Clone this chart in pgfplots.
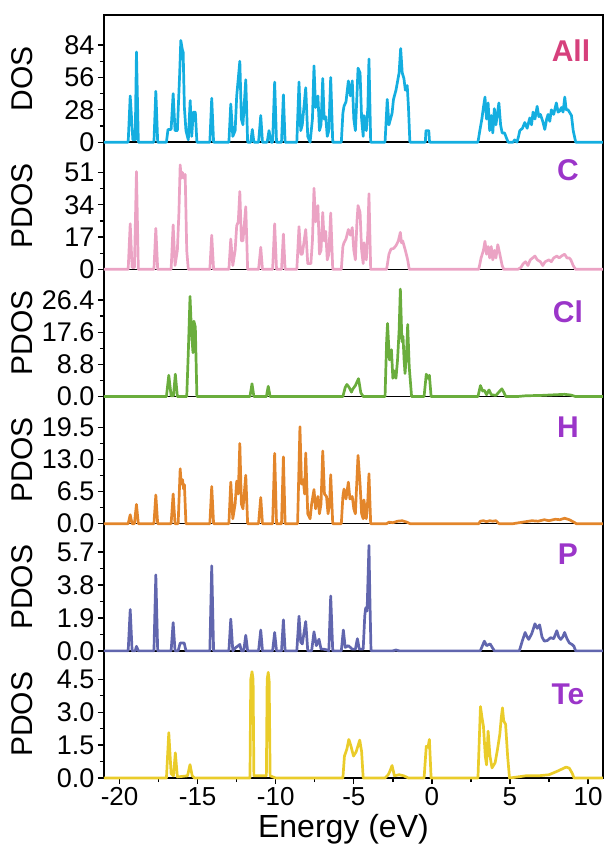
\documentclass[border=0pt]{standalone}
\usepackage{pgfplots}
\pgfplotsset{compat=1.18}
\usepgfplotslibrary{groupplots}
\usepackage{fontspec}
\setmainfont{Liberation Sans}

\definecolor{cAll}{HTML}{14AEE0}
\definecolor{cC}{HTML}{EBA3C4}
\definecolor{cCl}{HTML}{6AAD3D}
\definecolor{cH}{HTML}{E3862B}
\definecolor{cP}{HTML}{6166AE}
\definecolor{cTe}{HTML}{EACC2A}
\definecolor{labAll}{HTML}{D6407C}
\definecolor{labEl}{HTML}{9B35C9}

\begin{document}
\begin{tikzpicture}
\begin{groupplot}[
  group style={group size=1 by 6, vertical sep=0pt, xticklabels at=edge bottom},
  width=499bp, height=127.2bp, scale only axis,
  set layers=standard,
  xmin=-21, xmax=10.95, ymin=0,
  xtick={-20,-15,...,10}, minor x tick num=1,
  minor y tick num=1,
  ytick pos=left, xtick pos=bottom,
  tick align=outside,
  axis line style={line width=1.6bp},
  tick style={black, line width=1.3bp},
  major tick length=6bp, minor tick length=4bp,
  /pgf/number format/assume math mode=true,
  yticklabel style={font=\fontsize{27bp}{29bp}\selectfont},
  xticklabel style={font=\fontsize{26bp}{28bp}\selectfont},
  ylabel style={font=\fontsize{30bp}{32bp}\selectfont, at={(axis description cs:-0.164,0.5)}, anchor=center},
  xlabel style={font=\fontsize{32bp}{34bp}\selectfont, at={(axis description cs:0.48,-0.464)}, anchor=base},
  every axis plot/.append style={line width=2.7bp, line join=round, on layer=axis foreground},
  clip=false,
]
% All
\nextgroupplot[ymax=110, ytick={0,28,56,84}, ylabel={DOS}, major x tick style={draw=none}, minor x tick style={draw=none}]
\addplot[cAll] coordinates {(-21,0) (-19.45,0) (-19.32,40) (-19.15,2) (-19.0,2) (-18.92,78) (-18.8,0) (-17.8,0) (-17.68,44) (-17.56,0) (-17.0,0) (-16.9,11) (-16.7,11) (-16.57,42) (-16.45,10) (-16.3,10) (-16.15,60) (-16.08,88) (-15.98,80) (-15.93,78) (-15.85,30) (-15.75,10) (-15.6,2) (-15.48,36) (-15.38,5) (-15.28,26) (-15.15,26) (-15.05,0) (-14.22,0) (-14.10,38) (-13.98,0) (-13.0,0) (-12.88,33) (-12.75,5) (-12.6,10) (-12.5,40) (-12.3,70) (-12.2,20) (-12.1,15) (-11.92,54) (-11.8,0) (-11.6,0) (-11.5,11) (-11.4,0) (-11.1,0) (-10.96,23) (-10.85,0) (-10.55,0) (-10.43,10) (-10.3,0) (-10.2,0) (-10.07,52) (-9.95,0) (-9.63,0) (-9.51,41) (-9.4,0) (-8.65,0) (-8.51,52) (-8.4,10) (-8.3,15) (-8.08,47) (-7.95,5) (-7.8,0) (-7.65,20) (-7.55,66) (-7.45,30) (-7.3,40) (-7.2,10) (-7.1,15) (-6.99,55) (-6.9,20) (-6.8,22) (-6.7,5) (-6.6,10) (-6.48,56) (-6.35,0) (-5.8,0) (-5.7,25) (-5.63,31) (-5.5,35) (-5.35,53) (-5.22,40) (-5.1,53) (-5.0,20) (-4.9,10) (-4.8,40) (-4.73,64) (-4.6,60) (-4.5,20) (-4.4,5) (-4.35,23) (-4.2,10) (-4.1,30) (-4.03,72) (-3.92,0) (-3.0,0) (-2.86,37) (-2.75,15) (-2.65,20) (-2.55,25) (-2.46,37) (-2.3,45) (-2.1,60) (-2.0,81) (-1.9,60) (-1.79,55) (-1.7,45) (-1.58,49) (-1.5,30) (-1.41,0) (-0.42,0) (-0.38,10) (-0.2,10) (-0.15,0) (2.95,0) (3.07,10) (3.2,20) (3.3,30) (3.4,39) (3.5,20) (3.6,34) (3.7,10) (3.8,23) (3.9,8) (4.0,29) (4.1,15) (4.2,25) (4.29,34) (4.4,15) (4.5,8) (4.65,8) (4.88,0) (5.2,0) (5.3,2) (5.45,0) (5.55,5) (5.63,10) (5.8,12) (5.95,17) (6.1,12) (6.27,21) (6.38,15) (6.48,26) (6.6,20) (6.74,31) (6.85,22) (6.95,24) (7.1,18) (7.23,11) (7.35,20) (7.44,24) (7.55,18) (7.65,28) (7.8,24) (7.97,34) (8.08,26) (8.19,27) (8.3,30) (8.4,26) (8.51,39) (8.6,28) (8.72,28) (8.85,25) (8.94,23) (9.05,10) (9.21,0) (10.95,0)};
\node[labAll, font=\fontsize{30bp}{32bp}\selectfont\bfseries] at (rel axis cs:0.936,0.72) {All};

% C
\nextgroupplot[ymax=67, ytick={0,17,34,51}, ylabel={PDOS}, major x tick style={draw=none}, minor x tick style={draw=none}]
\addplot[cC] coordinates {(-21,0) (-19.45,0) (-19.32,24) (-19.2,1) (-19.05,1) (-18.92,51.5) (-18.8,0) (-17.8,0) (-17.68,21.6) (-17.56,0) (-16.7,0) (-16.57,23.4) (-16.45,2) (-16.3,10) (-16.2,30) (-16.12,55) (-16.05,48) (-15.97,51) (-15.88,48) (-15.8,50) (-15.7,10) (-15.6,0) (-14.22,0) (-14.10,18) (-13.98,0) (-13.0,0) (-12.88,16) (-12.75,2) (-12.6,10) (-12.5,23) (-12.4,25) (-12.3,41) (-12.2,15) (-12.1,15) (-11.92,33) (-11.8,0) (-11.1,0) (-10.96,11.6) (-10.85,0) (-10.2,0) (-10.07,24) (-9.95,0) (-9.63,0) (-9.51,18.6) (-9.4,0) (-8.65,0) (-8.51,22.5) (-8.4,8) (-8.3,8) (-8.08,21) (-7.95,3) (-7.75,3) (-7.65,15) (-7.55,42.7) (-7.45,25) (-7.3,33.6) (-7.2,8) (-7.1,10) (-6.99,30) (-6.9,15) (-6.8,20) (-6.7,5) (-6.6,8) (-6.48,29.7) (-6.35,0) (-5.8,0) (-5.7,12) (-5.63,14) (-5.5,16) (-5.35,21) (-5.22,18) (-5.1,22) (-5.0,10) (-4.9,5) (-4.8,25) (-4.73,33.6) (-4.6,30) (-4.5,10) (-4.4,3) (-4.35,14) (-4.2,5) (-4.1,20) (-4.03,39.8) (-3.92,0) (-2.9,0) (-2.75,8) (-2.62,10.7) (-2.45,11) (-2.3,12.5) (-2.15,15) (-2.02,19.5) (-1.95,14) (-1.87,15) (-1.7,10) (-1.55,5) (-1.45,0) (3.0,0) (3.15,6) (3.3,10) (3.4,14.8) (3.5,8) (3.6,12) (3.7,6) (3.8,12) (3.9,5) (4.0,10) (4.1,6) (4.22,13) (4.35,8) (4.5,2) (4.6,0) (5.5,0) (5.7,1) (5.85,3) (6.0,4) (6.15,2) (6.3,5) (6.45,6) (6.6,7) (6.75,5) (6.95,4) (7.1,2) (7.25,4) (7.5,5) (7.65,4) (7.8,6) (8.0,7) (8.15,6) (8.3,7) (8.5,8) (8.65,6) (8.8,6) (8.9,5) (9.05,2) (9.2,0) (10.95,0)};
\node[labEl, font=\fontsize{30bp}{32bp}\selectfont\bfseries] at (rel axis cs:0.93,0.78) {C};

% Cl
\nextgroupplot[ymax=34.8, ytick={0,8.8,17.6,26.4}, ylabel={PDOS}, yticklabel={\pgfmathprintnumber[fixed,fixed zerofill,precision=1]{\tick}}, major x tick style={draw=none}, minor x tick style={draw=none}]
\addplot[cCl] coordinates {(-21,0) (-17.0,0) (-16.85,5.8) (-16.7,0.2) (-16.55,0.2) (-16.43,6.1) (-16.3,0) (-15.7,0) (-15.6,12) (-15.49,27.4) (-15.4,18) (-15.3,12) (-15.24,20.6) (-15.15,19) (-15.05,0) (-11.65,0) (-11.52,3.5) (-11.4,0) (-10.6,0) (-10.48,2.8) (-10.36,0) (-5.7,0) (-5.55,2.5) (-5.44,3.3) (-5.3,2.5) (-5.15,1.2) (-5.07,2) (-4.9,3) (-4.7,4.9) (-4.55,1) (-4.4,0) (-3.0,0) (-2.9,15) (-2.84,20) (-2.72,10) (-2.59,12.8) (-2.5,5) (-2.39,7) (-2.3,5) (-2.2,10) (-2.1,18) (-2.02,29.4) (-1.92,15) (-1.85,16.5) (-1.78,10) (-1.72,6.3) (-1.62,12) (-1.55,19.7) (-1.45,8) (-1.3,0) (-0.5,0) (-0.36,6.1) (-0.25,5) (-0.16,5.8) (-0.05,0) (2.95,0) (3.11,3) (3.25,1.5) (3.36,1.7) (3.5,0.5) (3.66,1.8) (3.8,0.5) (4.1,0.3) (4.35,1.5) (4.48,2.1) (4.6,1.2) (4.73,0) (5.5,0) (6.0,0.2) (7.0,0.3) (7.5,0.4) (8.0,0.5) (8.5,0.6) (8.9,0.4) (9.2,0) (10.95,0)};
\node[labEl, font=\fontsize{30bp}{32bp}\selectfont\bfseries] at (rel axis cs:0.93,0.67) {Cl};

% H
\nextgroupplot[ymax=25.7, ytick={0,6.5,13,19.5}, ylabel={PDOS}, yticklabel={\pgfmathprintnumber[fixed,fixed zerofill,precision=1]{\tick}}, major x tick style={draw=none}, minor x tick style={draw=none}]
\addplot[cH] coordinates {(-21,0) (-19.45,0) (-19.32,1.8) (-19.2,0) (-19.05,0) (-18.92,3.9) (-18.8,0) (-17.8,0) (-17.68,5.8) (-17.56,0) (-16.7,0) (-16.57,6.0) (-16.45,0) (-16.25,0) (-16.12,11.1) (-16.05,8) (-15.97,8.9) (-15.9,7) (-15.85,7.9) (-15.75,0) (-14.22,0) (-14.10,7.5) (-13.98,0) (-13.0,0) (-12.88,8.4) (-12.75,1) (-12.6,4) (-12.5,8.6) (-12.4,6) (-12.3,16.2) (-12.2,4) (-12.1,3) (-11.92,9.8) (-11.8,0) (-11.1,0) (-10.96,5.3) (-10.85,0) (-10.2,0) (-10.07,14.2) (-9.95,0) (-9.63,0) (-9.51,13.5) (-9.4,0) (-8.6,0) (-8.45,19.6) (-8.35,8) (-8.24,8.9) (-8.15,6) (-8.08,14.3) (-7.95,2) (-7.8,1) (-7.7,4) (-7.55,6.9) (-7.45,3) (-7.3,5.5) (-7.2,2) (-7.1,4) (-6.99,14.7) (-6.88,6) (-6.75,5.5) (-6.65,2) (-6.55,4) (-6.48,9.9) (-6.35,0) (-5.8,0) (-5.7,5.5) (-5.63,7.0) (-5.5,5) (-5.35,8.4) (-5.25,5) (-5.1,5.5) (-5.0,3) (-4.9,2) (-4.8,9) (-4.73,13.8) (-4.6,8) (-4.5,2) (-4.4,1) (-4.35,4.8) (-4.2,1) (-4.1,5) (-4.03,10.1) (-3.92,0) (-2.9,0) (-2.75,0.3) (-2.5,0.2) (-2.2,0.5) (-1.9,0.6) (-1.6,0.3) (-1.4,0) (3.0,0) (3.1,0.5) (3.3,0.6) (3.5,0.4) (3.7,0.6) (3.9,0.5) (4.1,0.6) (4.3,0) (5.2,0) (5.6,0.2) (6.0,0.4) (6.4,0.6) (6.8,0.5) (7.2,0.8) (7.5,0.6) (7.9,0.9) (8.2,0.8) (8.5,1.1) (8.8,0.8) (9.1,0.3) (9.25,0) (10.95,0)};
\node[labEl, font=\fontsize{30bp}{32bp}\selectfont\bfseries] at (rel axis cs:0.93,0.76) {H};

% P
\nextgroupplot[ymax=7.33, ytick={0,1.9,3.8,5.7}, ylabel={PDOS}, yticklabel={\pgfmathprintnumber[fixed,fixed zerofill,precision=1]{\tick}}, major x tick style={draw=none}, minor x tick style={draw=none}]
\addplot[cP] coordinates {(-21,0) (-19.45,0) (-19.32,2.38) (-19.2,0) (-19.0,0) (-18.92,0.26) (-18.8,0) (-17.8,0) (-17.68,4.38) (-17.56,0) (-16.7,0) (-16.57,1.63) (-16.45,0) (-16.25,0) (-16.12,0.45) (-15.95,0.45) (-15.86,0.45) (-15.75,0) (-14.22,0) (-14.10,4.9) (-13.98,0) (-13.0,0) (-12.88,1.83) (-12.75,0) (-12.55,0.2) (-12.45,0.26) (-12.3,0.37) (-12.2,0) (-12.05,0) (-11.92,0.9) (-11.8,0) (-11.1,0) (-10.96,1.2) (-10.85,0) (-10.2,0) (-10.07,1.06) (-9.95,0) (-9.63,0) (-9.51,1.79) (-9.4,0) (-8.65,0) (-8.51,2.0) (-8.4,0.5) (-8.3,0.4) (-8.08,1.69) (-7.95,0) (-7.7,0) (-7.55,1.1) (-7.4,0.3) (-7.23,0.67) (-7.1,0.1) (-6.95,0.1) (-6.7,0.05) (-6.6,0) (-6.48,3.16) (-6.35,0) (-5.8,0) (-5.67,1.2) (-5.55,0.2) (-5.35,0.3) (-5.1,0.1) (-4.9,0.1) (-4.77,0.7) (-4.65,0.1) (-4.4,0.1) (-4.3,2.0) (-4.24,2.48) (-4.15,2.3) (-4.08,4.5) (-4.03,6.07) (-3.97,3) (-3.9,0) (-2.5,0) (-2.3,0.05) (-2.1,0) (3.1,0) (3.36,0.56) (3.5,0.3) (3.73,0.4) (4.0,0) (5.6,0) (5.8,0.6) (5.97,1.06) (6.1,0.8) (6.2,0.66) (6.4,1.0) (6.6,1.56) (6.75,1.3) (6.9,1.5) (7.05,0.8) (7.2,0.56) (7.4,0.6) (7.6,0.76) (7.8,0.7) (8.0,1.16) (8.12,0.8) (8.25,0.66) (8.38,0.8) (8.5,1.06) (8.65,0.7) (8.8,0.46) (9.0,0.35) (9.1,0.26) (9.2,0) (10.95,0)};
\node[labEl, font=\fontsize{30bp}{32bp}\selectfont\bfseries] at (rel axis cs:0.93,0.76) {P};

% Te
\nextgroupplot[ymax=5.8, ytick={0,1.5,3,4.5}, ylabel={PDOS}, xlabel={Energy (eV)}, yticklabel={\pgfmathprintnumber[fixed,fixed zerofill,precision=1]{\tick}}]
\addplot[cTe] coordinates {(-21,0) (-17.0,0) (-16.85,2.07) (-16.7,0.2) (-16.55,0.1) (-16.43,1.15) (-16.3,0.05) (-15.65,0.1) (-15.49,0.61) (-15.35,0.1) (-15.2,0) (-11.65,0) (-11.6,4.5) (-11.52,4.85) (-11.45,4.5) (-11.4,0.1) (-10.6,0.1) (-10.55,4.5) (-10.48,4.82) (-10.42,4.4) (-10.36,0.1) (-10.0,0) (-5.7,0) (-5.6,1.0) (-5.44,1.33) (-5.32,1.76) (-5.2,1.5) (-5.02,1.0) (-4.85,1.2) (-4.62,1.73) (-4.5,1.2) (-4.4,0) (-3.0,0) (-2.8,0.15) (-2.72,0.26) (-2.55,0.57) (-2.4,0.1) (-2.1,0.15) (-1.8,0.1) (-1.5,0) (-0.5,0) (-0.36,1.45) (-0.25,1.4) (-0.16,1.76) (-0.05,0) (2.95,0) (3.11,3.26) (3.2,2.8) (3.3,2.37) (3.42,1.0) (3.5,0.6) (3.6,2.14) (3.72,1.0) (3.85,0.46) (4.05,0.7) (4.2,1.3) (4.35,2.0) (4.45,2.8) (4.52,3.2) (4.6,2.6) (4.72,2.45) (4.85,1.0) (4.97,0) (5.5,0.05) (6.0,0.1) (6.8,0.1) (7.5,0.15) (8.0,0.3) (8.3,0.4) (8.6,0.5) (8.8,0.45) (9.0,0.2) (9.1,0) (10.95,0)};
\node[labEl, font=\fontsize{30bp}{32bp}\selectfont\bfseries] at (rel axis cs:0.93,0.66) {Te};
\end{groupplot}
\pgfresetboundingbox
\path[use as bounding box] ([shift={(-104bp,15bp)}]group c1r1.north west) rectangle ([shift={(504bp,-68bp)}]group c1r6.south west);
\end{tikzpicture}
\end{document}
